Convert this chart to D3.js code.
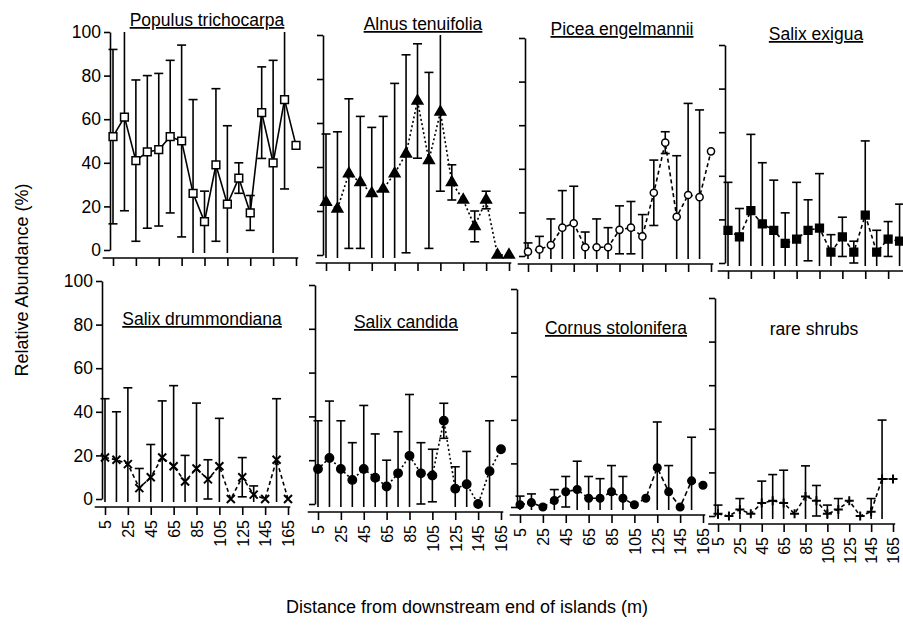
<!DOCTYPE html>
<html><head><meta charset="utf-8">
<script src="https://cdn.jsdelivr.net/npm/d3@7"></script>
<style>
body{margin:0;background:#fff;overflow:hidden}
text{font-family:"Liberation Sans",Arial,Helvetica,sans-serif;fill:#000}
</style>
</head><body>
<svg id="chart" width="903" height="630"></svg>
<script>
// ---------- data ----------
const distances = [5,15,25,35,45,55,65,75,85,95,105,115,125,135,145,155,165];
const xTickValues = [5,25,45,65,85,105,125,145,165];
const yTickValues = [0,20,40,60,80,100];

const speciesNames = ["Populus trichocarpa","Alnus tenuifolia","Picea engelmannii","Salix exigua",
                      "Salix drummondiana","Salix candida","Cornus stolonifera","rare shrubs"];

const populusMean = [52,61,41,45,46,52,50,26,13,39,21,33,17,63,40,69,48];
const populusSD   = [40,43,37,35,35,35,44,43,14,35,36, 7, 8,21,47,41, 0];

const alnusMean = [24,21,37,33,28,30,37,46,70,43,65,33,25,13,25,0,0];
const alnusSD   = [31,35,34,30,30,33,41,45,26,40,36, 8, 0, 7, 4,0,0];

const piceaMean = [2,3, 5,13,15,4, 4,4,12,13, 9,29,52,18,28,27,48];
const piceaSD   = [4,6,12,17,17,7,13,9,11,12,10,15, 5,28,42,40, 0];

const exiguaMean = [15,12,24,18,15, 9,11,15,16,5,12,5,22, 5,11,10,10];
const exiguaSD   = [22,13,35,28,23,14,26,14,25,8, 9,5,34,10, 8,17,10];

const drummondianaMean = [19,18,16,5,10,19,15, 8,14,9,15,0,10,2,0,18,0];
const drummondianaSD   = [27,22,35,9,15,26,37,12,30,9,22,0, 9,4,0,28,0];

const candidaMean = [16,21,16,11,16,12, 8,14,22,14,13,38, 7, 9,0,15,25];
const candidaSD   = [22,26,22,17,29,20,12,19,28,14,12, 8,10,15,0,23, 0];

const cornusMean = [1,2,0,3,7, 8, 4,4, 7, 4,1,4,18, 7,0,12,10];
const cornusSD   = [4,4,0,5,7,13,10,9,12,10,0,0,21,12,0,20, 0];

const rareMean = [1,0,3,1, 6, 7, 6,1, 9,7,1,3,7,0,2,17,17];
const rareSD   = [4,0,5,0,10,12,15,0,14,7,4,5,0,0,6,27, 0];

const seriesMeans = [populusMean, alnusMean, piceaMean, exiguaMean, drummondianaMean, candidaMean, cornusMean, rareMean];
const seriesSDs   = [populusSD, alnusSD, piceaSD, exiguaSD, drummondianaSD, candidaSD, cornusSD, rareSD];

// ---------- styles & layout ----------
const markerTypes = ["squareOpen","triangle","circleOpen","square","cross","circle","circleSmall","plus"];
const lineDash = [null,"2,2.5","4,3","4,3","4,3","2,2.5","5,3","4,3"];
const underlined = [true,true,true,true,true,true,true,false];
// per-panel geometry: y-axis x, plot width, pixel of 0, pixel of 100, title centre & baseline
const layout = [
  {ax:110, w:186, y0:250, y100:32,  tx:207, ty:26,  labels:true,  bottom:false},
  {ax:323, w:186, y0:255, y100:35,  tx:423, ty:30,  labels:false, bottom:false},
  {ax:525, w:186, y0:256, y100:38,  tx:622, ty:35,  labels:false, bottom:false},
  {ax:725, w:186, y0:263, y100:45,  tx:816, ty:40,  labels:false, bottom:false},
  {ax:102, w:186, y0:499, y100:281, tx:202, ty:325, labels:true,  bottom:true},
  {ax:315, w:186, y0:504, y100:285, tx:406, ty:328, labels:false, bottom:true},
  {ax:517, w:186, y0:507, y100:289, tx:616, ty:334, labels:false, bottom:true},
  {ax:715, w:178, y0:516, y100:298, tx:814, ty:335, labels:false, bottom:true}
];

const svg = d3.select("#chart");
const SW = 1.6;

function markerPath(type){
  switch(type){
    case "squareOpen": case "square": return d3.symbol(d3.symbolSquare, 60)();
    case "triangle": return d3.symbol(d3.symbolTriangle, 50)();
    case "circleOpen": return d3.symbol(d3.symbolCircle, 40)();
    case "circle": return d3.symbol(d3.symbolCircle, 55)();
    case "circleSmall": return d3.symbol(d3.symbolCircle, 45)();
    case "cross": return "M-4,-4L4,4M-4,4L4,-4";
    case "plus": return "M-4.5,0L4.5,0M0,-4.5L0,4.5";
  }
}

speciesNames.forEach((name, i) => {
  const L = layout[i];
  const means = seriesMeans[i], sds = seriesSDs[i];
  const pts = distances.map((d, k) => ({d, m: means[k], s: sds[k]}));
  const x = d3.scaleLinear().domain([5,165]).range([L.ax + 3, L.ax + L.w]);
  const y = d3.scaleLinear().domain([0,100]).range([L.y0, L.y100]);
  const g = svg.append("g");

  // y axis
  const yAxis = d3.axisLeft(y).tickValues(yTickValues).tickSize(6).tickSizeOuter(0)
      .tickFormat(L.labels ? d3.format("d") : () => "");
  const gy = g.append("g").attr("transform", `translate(${L.ax},0)`).call(yAxis);
  gy.selectAll("path,line").attr("stroke", "#000").attr("stroke-width", SW);
  gy.selectAll("text").attr("font-size", 17.5).attr("x", -9);

  // x axis
  const xAxis = d3.axisBottom(x).tickValues(xTickValues).tickSize(8).tickSizeOuter(0)
      .tickFormat(L.bottom ? d => d : () => "");
  const gx = g.append("g").attr("transform", `translate(0,${L.y0 + 8})`).call(xAxis);
  gx.select(".domain").attr("d", `M${x(-4)},0H${x(167)}`);
  gx.selectAll("path,line").attr("stroke", "#000").attr("stroke-width", SW);
  if (L.bottom) {
    gx.selectAll("text").attr("font-size", 16).attr("transform", "rotate(-90)")
      .attr("text-anchor", "end").attr("x", -13).attr("y", 0).attr("dy", "0.36em");
  }

  // error bars
  const cap = 4.5;
  pts.filter(p => p.s > 0).forEach(p => {
    const hiV = p.m + p.s, loV = p.m - p.s;
    const hi = Math.min(100, hiV), lo = Math.max(0, loV);
    const cx = x(p.d);
    g.append("line").attr("x1", cx).attr("x2", cx).attr("y1", y(lo) + (loV < 0 ? 3 : 0)).attr("y2", y(hi))
      .attr("stroke", "#000").attr("stroke-width", SW);
    if (hiV <= 100) g.append("line").attr("x1", cx - cap).attr("x2", cx + cap).attr("y1", y(hi)).attr("y2", y(hi))
      .attr("stroke", "#000").attr("stroke-width", SW);
    if (loV >= 0) g.append("line").attr("x1", cx - cap).attr("x2", cx + cap).attr("y1", y(lo)).attr("y2", y(lo))
      .attr("stroke", "#000").attr("stroke-width", SW);
  });

  // connecting line
  const line = d3.line().x(p => x(p.d)).y(p => y(p.m));
  g.append("path").datum(pts).attr("d", line).attr("fill", "none").attr("stroke", "#000")
    .attr("stroke-width", SW).attr("stroke-dasharray", lineDash[i]);

  // markers
  const t = markerTypes[i];
  const open = (t === "squareOpen" || t === "circleOpen");
  const strokeOnly = (t === "cross" || t === "plus");
  g.selectAll(".mk").data(pts).enter().append("path")
    .attr("transform", p => `translate(${x(p.d)},${y(p.m)})`)
    .attr("d", markerPath(t))
    .attr("fill", open ? "#fff" : (strokeOnly ? "none" : "#000"))
    .attr("stroke", "#000").attr("stroke-width", strokeOnly ? 2 : 1.5);

  // title
  g.append("text").attr("x", L.tx).attr("y", L.ty).attr("text-anchor", "middle")
    .attr("font-size", 17.5).attr("text-decoration", underlined[i] ? "underline" : null).text(name);
});

// axis titles
svg.append("text").attr("transform", "translate(28,280) rotate(-90)").attr("text-anchor", "middle")
  .attr("font-size", 18).text("Relative Abundance (%)");
svg.append("text").attr("x", 467).attr("y", 613).attr("text-anchor", "middle")
  .attr("font-size", 18).text("Distance from downstream end of islands (m)");
</script>
</body></html>
